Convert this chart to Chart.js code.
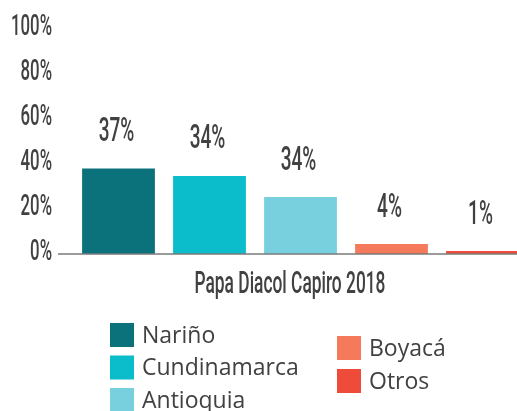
<!DOCTYPE html>
<html>
<head>
<meta charset="utf-8">
<script src="https://cdn.jsdelivr.net/npm/chart.js@4"></script>
<style>
  html, body { margin: 0; padding: 0; background: #fff; overflow: hidden; }
  #wrap { width: 517px; height: 411px; overflow: hidden; }
</style>
</head>
<body>
<div id="wrap"><canvas id="chart" width="540" height="411"></canvas></div>
<script>
let categories = ["Nariño", "Cundinamarca", "Antioquia", "Boyacá", "Otros"];
let shares = [38, 34.7, 25.3, 4.4, 1.3];
let shareLabels = ["37%", "34%", "34%", "4%", "1%"];
let barColors = ["#0B727B", "#0BBCCB", "#78CFDD", "#F47A5B", "#EF4B3B"];
let yTicks = [0, 20, 40, 60, 80, 100];
let axisTitle = "Papa Diacol Capiro 2018";
let inkColor = "#414042";

// condensed-looking text: squeeze Roboto horizontally
function narrowText(ctx, text, x, y, size, align) {
  let squeeze = 0.56;
  ctx.save();
  ctx.font = "500 " + size + "px Roboto";
  ctx.fillStyle = inkColor;
  ctx.textBaseline = "middle";
  ctx.textAlign = "left";
  let w = ctx.measureText(text).width * squeeze;
  let left = align === "right" ? x - w : align === "center" ? x - w / 2 : x;
  ctx.translate(left, y);
  ctx.scale(squeeze, 1);
  ctx.fillText(text, 0, 0);
  ctx.restore();
}

let decorations = {
  id: "decorations",
  afterDatasetsDraw(chart) {
    let ctx = chart.ctx;
    let yScale = chart.scales.y;
    let base = yScale.getPixelForValue(0);

    // baseline
    ctx.save();
    ctx.strokeStyle = "#7a7a7a";
    ctx.lineWidth = 1.5;
    ctx.beginPath();
    ctx.moveTo(58, base);
    ctx.lineTo(chart.width, base);
    ctx.stroke();
    ctx.restore();

    // y tick labels
    yTicks.forEach(v => {
      narrowText(ctx, v + "%", 52, yScale.getPixelForValue(v) - 2, 30, "right");
    });

    // value labels
    let meta = chart.getDatasetMeta(0);
    meta.data.forEach((bar, i) => {
      narrowText(ctx, shareLabels[i], bar.x - 2, bar.y - 36, 34, "center");
    });

    // axis title
    narrowText(ctx, axisTitle, 290, 285, 31, "center");

    // legend: two columns
    ctx.save();
    ctx.font = "23px 'Open Sans'";
    ctx.textBaseline = "middle";
    ctx.textAlign = "left";
    categories.forEach((name, i) => {
      let left = i < 3 ? 110 : 337;
      let top = i < 3 ? 323 + i * 32.5 : 336 + (i - 3) * 33;
      ctx.fillStyle = barColors[i];
      ctx.fillRect(left, top, 24, 24);
      ctx.fillStyle = inkColor;
      ctx.fillText(name, left + 32, top + 13);
    });
    ctx.restore();
  }
};

new Chart(document.getElementById("chart").getContext("2d"), {
  type: "bar",
  data: {
    labels: categories,
    datasets: [
      {
        data: shares,
        backgroundColor: barColors,
        categoryPercentage: 1,
        barPercentage: 0.8,
      },
    ],
  },
  options: {
    responsive: false,
    animation: false,
    layout: {
      padding: { left: 73, right: 12, top: 29, bottom: 157 },
    },
    plugins: {
      legend: { display: false },
      tooltip: { enabled: false },
    },
    scales: {
      x: { display: false },
      y: { display: false, min: 0, max: 100, ticks: { stepSize: 20 } },
    },
  },
  plugins: [decorations],
});
</script>
</body>
</html>
